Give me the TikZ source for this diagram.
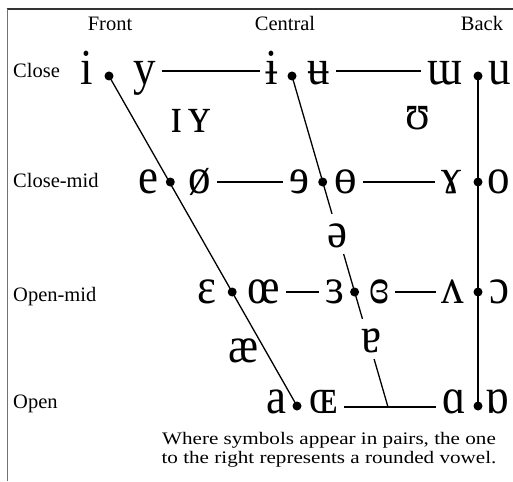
\documentclass[tikz,border=0pt]{standalone}
\usepackage{graphicx}
\usepackage{fontspec}
\setmainfont{Liberation Serif}
\newcommand{\vw}[1]{\scalebox{1}[1.12]{#1}}
\newcommand{\cw}[1]{\scalebox{1.2}[1]{#1}}
\begin{document}
\begin{tikzpicture}[x=1pt,y=-1pt,
  lab/.style={font=\fontsize{20.5}{24}\selectfont, anchor=base, inner sep=0pt},
  capt/.style={font=\fontsize{17.6}{20}\selectfont, anchor=base, inner sep=0pt},
  v/.style={font=\fontsize{45}{50}\selectfont, anchor=base, inner xsep=6pt, inner ysep=0pt, text height=30pt, text depth=4pt},
  dt/.style={circle, fill=black, inner sep=0pt, minimum size=9pt},
  ln/.style={line width=1.3pt},
  gapv/.style={v, fill=white, inner xsep=2pt, inner ysep=3pt}
]
\useasboundingbox (0,0) rectangle (513,481);
% frame
\draw[black!80, line width=1.6pt] (6.7,9) -- (513,9);
\draw[black!55, line width=1.6pt] (7.5,9) -- (7.5,481);
% headers
\node[lab] (hF) at (110,31) {Front};
\node[lab] (hC) at (285,31) {Central};
\node[lab] (hB) at (482,31) {Back};
% row labels
\node[lab, anchor=base west] (rC) at (13,78) {Close};
\node[lab, anchor=base west] (rCM) at (13,187) {Close-mid};
\node[lab, anchor=base west] (rOM) at (13,301) {Open-mid};
\node[lab, anchor=base west] (rO) at (13,408) {Open};
% close row
\node[v] (vi) at (87,85) {\vw{i}};
\node[v] (vy) at (145,85) {\vw{y}};
\node[v] (vibar) at (272,85) {\vw{ɨ}};
\node[v] (vubar) at (319,85) {\vw{ʉ}};
\node[v] (vmu) at (445,85) {\vw{ɯ}};
\node[v] (vu) at (500,85) {\vw{u}};
% close-mid row
\node[v] (ve) at (148,193) {\vw{e}};
\node[v] (voslash) at (200,193) {\vw{ø}};
\node[v] (vrevE) at (299,193) {\vw{ɘ}};
\node[v] (vbarO) at (346,193) {\vw{ɵ}};
\node[v] (vram) at (451,193) {\vw{ɤ}};
\node[v] (vo) at (499,193) {\vw{o}};
% open-mid row
\node[v] (veps) at (207,303) {\vw{ɛ}};
\node[v] (voe) at (264,303) {\vw{œ}};
\node[v] (vrevEps) at (335,303) {\vw{ɜ}};
\node[v] (vclosedRevEps) at (379,303) {\vw{ɞ}};
\node[v] (vwedge) at (453,303) {\vw{ʌ}};
\node[v] (vopenO) at (499,303) {\vw{ɔ}};
% open row
\node[v] (va) at (276,413) {\vw{a}};
\node[v] (vOE) at (324,413) {\vw{ɶ}};
\node[v] (vscripta) at (454,413) {\vw{ɑ}};
\node[v] (vturnscripta) at (497,413) {\vw{ɒ}};
% in-between vowels
\node[v] (vsmallI) at (177,132) {\vw{ɪ}};
\node[v] (vsmallY) at (200,132) {\vw{ʏ}};
\node[v] (vupsilon) at (418,130) {\vw{ʊ}};
\node[v] (vae) at (244,362) {\vw{æ}};
% dots
\node[dt] (f1) at (109,76) {};
\node[dt] (f2) at (170.3,182) {};
\node[dt] (f3) at (232.2,292) {};
\node[dt] (f4) at (297,406) {};
\node[dt] (c1) at (292,76) {};
\node[dt] (c2) at (322.7,182) {};
\node[dt] (c3) at (354.6,292) {};
\node[dt] (b1) at (478,76) {};
\node[dt] (b2) at (478,182) {};
\node[dt] (b3) at (478,292) {};
\node[dt] (b4) at (478,406) {};
\coordinate (cbot) at (388,407);
% vertical / slanted lines
\draw[ln] (f1.center) -- (f4.center);
\draw[ln] (c1.center) -- (cbot);
\draw[ln] (b1.center) -- (b4.center);
% horizontal lines
\draw[ln] ([yshift=14pt]vy.base east) -- ([yshift=14pt]vibar.base west);
\draw[ln] ([yshift=14pt]vubar.base east) -- ([yshift=14pt]vmu.base west);
\draw[ln] ([yshift=11pt]voslash.base east) -- ([yshift=11pt]vrevE.base west);
\draw[ln] ([yshift=11pt]vbarO.base east) -- ([yshift=11pt]vram.base west);
\draw[ln] ([yshift=11pt]voe.base east) -- ([yshift=11pt]vrevEps.base west);
\draw[ln] ([yshift=11pt]vclosedRevEps.base east) -- ([yshift=11pt]vwedge.base west);
\draw[ln] ([yshift=6pt]vOE.base east) -- ([yshift=6pt]vscripta.base west);
% vowels that break the central line
\node[gapv] (vschwa) at (337,247) {\vw{ə}};
\node[gapv] (vturna) at (371,352) {\vw{ɐ}};
% caption
\node[capt] (cap1) at (329,444) {\cw{Where symbols appear in pairs, the one}};
\node[capt] (cap2) at (329,463) {\cw{to the right represents a rounded vowel.}};
\end{tikzpicture}
\end{document}
